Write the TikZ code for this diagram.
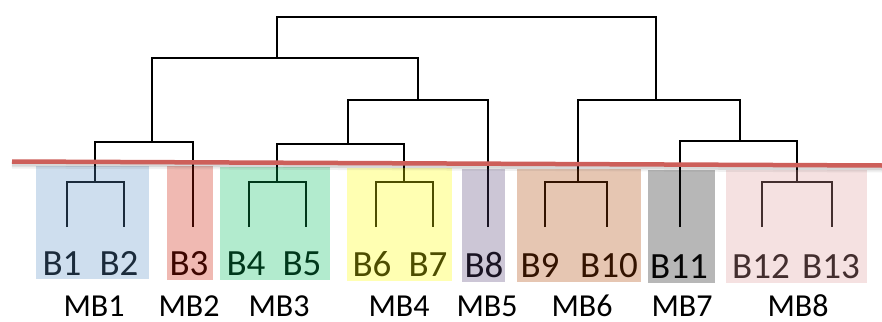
\documentclass[tikz,border=0pt]{standalone}
\usepackage{fontspec}
\setmainfont{Carlito}
\definecolor{redline}{RGB}{205,95,90}
\definecolor{cA}{RGB}{92,145,198}
\definecolor{cB}{RGB}{205,22,0}
\definecolor{cC}{RGB}{0,188,92}
\definecolor{cD}{RGB}{255,255,0}
\definecolor{cE}{RGB}{85,65,118}
\definecolor{cF}{RGB}{172,65,0}
\definecolor{cG}{RGB}{15,15,15}
\definecolor{cH}{RGB}{222,155,155}
\tikzset{
  dendro/.style={line width=2pt, line join=miter, black},
  blab/.style={anchor=base, inner sep=0pt, font=\fontsize{37}{37}\selectfont},
  mblab/.style={anchor=base, inner sep=0pt, text depth=0pt, font=\fontsize{32}{32}\selectfont},
  tint/.style={fill opacity=0.3},
}
\begin{document}
\begin{tikzpicture}[x=1pt,y=-1pt]
\useasboundingbox (0,0) rectangle (882,321);
% leaves
\coordinate (l1) at (67,227);
\coordinate (l2) at (124,227);
\coordinate (l3) at (193,227);
\coordinate (l4) at (249,227);
\coordinate (l5) at (306,227);
\coordinate (l6) at (376,227);
\coordinate (l7) at (433,227);
\coordinate (l8) at (488,227);
\coordinate (l9) at (545,227);
\coordinate (l10) at (607,227);
\coordinate (l11) at (680,227);
\coordinate (l12) at (762,227);
\coordinate (l13) at (832,227);
% internal merges
\coordinate (n12) at (95,182);
\coordinate (n123) at (152,142);
\coordinate (n45) at (277,182);
\coordinate (n67) at (404,182);
\coordinate (n4567) at (348,144);
\coordinate (n8) at (418,100);
\coordinate (nL) at (277,58);
\coordinate (n910) at (578,182);
\coordinate (n1213) at (797,182);
\coordinate (n11) at (740,141);
\coordinate (nR) at (656,100);
\coordinate (top) at (466,17);
% dendrogram
\draw[dendro] (l1) |- (n12) -| (l2);
\draw[dendro] (n12) |- (n123) -| (l3);
\draw[dendro] (l4) |- (n45) -| (l5);
\draw[dendro] (l6) |- (n67) -| (l7);
\draw[dendro] (n45) |- (n4567) -| (n67);
\draw[dendro] (n4567) |- (n8) -| (l8);
\draw[dendro] (n123) |- (nL) -| (n8);
\draw[dendro] (l9) |- (n910) -| (l10);
\draw[dendro] (l12) |- (n1213) -| (l13);
\draw[dendro] (l11) |- (n11) -| (n1213);
\draw[dendro] (n910) |- (nR) -| (n11);
\draw[dendro] (nL) |- (top) -| (nR);
% leaf labels
\node[blab] (b1) at (62,275) {B1};
\node[blab] (b2) at (119,275) {B2};
\node[blab] (b3) at (189,275) {B3};
\node[blab] (b4) at (246,275) {B4};
\node[blab] (b5) at (302,275) {B5};
\node[blab] (b6) at (372,276) {B6};
\node[blab] (b7) at (428,276) {B7};
\node[blab] (b8) at (484,277) {B8};
\node[blab] (b9) at (540,277) {B9};
\node[blab] (b10) at (609,277) {B10};
\node[blab] (b11) at (679,278) {B11};
\node[blab] (b12) at (761,278) {B12};
\node[blab] (b13) at (831,278) {B13};
% cluster boxes (tinted overlay)
\fill[cA, tint] (36,166) rectangle (149,279);
\fill[cB, tint] (167,166) rectangle (213,280);
\fill[cC, tint] (220,167) rectangle (330,280);
\fill[cD, tint] (347,168) rectangle (452,281);
\fill[cE, tint] (462,169) rectangle (505,282);
\fill[cF, tint] (517,169) rectangle (641,282);
\fill[cG, tint] (648,170) rectangle (715,283);
\fill[cH, tint] (726,170) rectangle (867,283);
% cluster labels
\node[mblab] (mb1) at (94,316) {MB1};
\node[mblab] (mb2) at (189,316) {MB2};
\node[mblab] (mb3) at (279,316) {MB3};
\node[mblab] (mb4) at (399,316) {MB4};
\node[mblab] (mb5) at (487,316) {MB5};
\node[mblab] (mb6) at (582,316) {MB6};
\node[mblab] (mb7) at (682,316) {MB7};
\node[mblab] (mb8) at (798,316) {MB8};
% cut line with soft shadow
\coordinate (cl) at (12,161.5);
\coordinate (cr) at (882,165.5);
\draw[line width=6pt, black, opacity=0.06] ([yshift=-4pt]cl) -- ([yshift=-4pt]cr);
\draw[line width=4pt, black, opacity=0.10] ([yshift=-3pt]cl) -- ([yshift=-3pt]cr);
\draw[line width=4.5pt, redline] (cl) -- (cr);
\end{tikzpicture}
\end{document}
